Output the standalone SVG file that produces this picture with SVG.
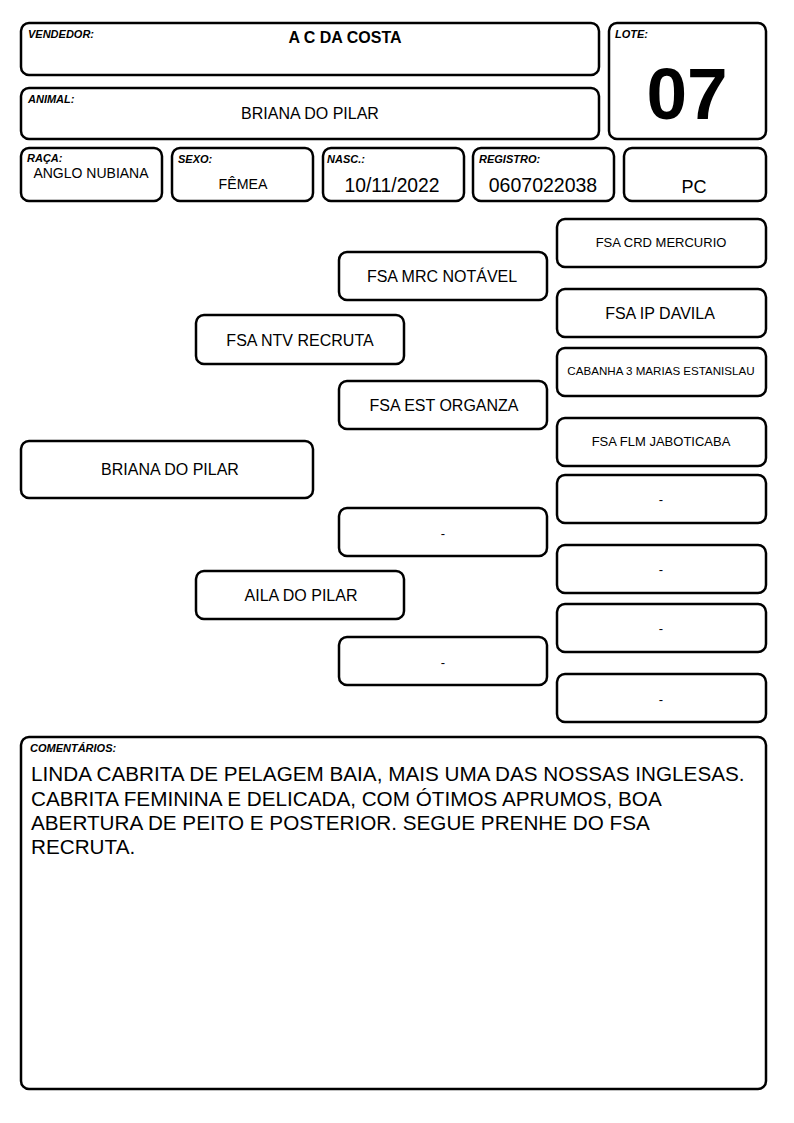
<svg xmlns="http://www.w3.org/2000/svg" width="794" height="1123" viewBox="0 0 794 1123">
<style>
.b{fill:#fff;stroke:#000;stroke-width:2.5}
.lb{font-family:"Liberation Sans",Arial,sans-serif;font-size:11px;font-weight:bold;font-style:italic;fill:#000}
.t{font-family:"Liberation Sans",Arial,sans-serif;font-size:16px;fill:#000;text-anchor:middle}
.s{font-family:"Liberation Sans",Arial,sans-serif;font-size:13px;fill:#000;text-anchor:middle}
.c{font-family:"Liberation Sans",Arial,sans-serif;font-size:20.7px;fill:#000}
</style>
<rect width="794" height="1123" fill="#fff"/>
<g id="vendedor"><rect class="b" x="21" y="23" width="578" height="52" rx="8"/><text class="lb" x="28" y="38">VENDEDOR:</text><text class="t" x="345" y="43" style="font-weight:bold">A C DA COSTA</text></g>
<g id="animal"><rect class="b" x="21" y="88" width="578" height="51" rx="8"/><text class="lb" x="28" y="103">ANIMAL:</text><text class="t" x="310" y="119">BRIANA DO PILAR</text></g>
<g id="lote"><rect class="b" x="609" y="23" width="157" height="116" rx="8"/><text class="lb" x="615" y="38">LOTE:</text><text x="687" y="119" style="font-family:'Liberation Sans',Arial,sans-serif;font-size:73px;font-weight:bold" text-anchor="middle">07</text></g>
<g id="raca"><rect class="b" x="21" y="148" width="141" height="53" rx="8"/><text class="lb" x="27" y="162">RAÇA:</text><text class="t" x="91" y="178" style="font-size:14px">ANGLO NUBIANA</text></g>
<g id="sexo"><rect class="b" x="172" y="148" width="141" height="53" rx="8"/><text class="lb" x="178" y="163">SEXO:</text><text class="t" x="243" y="189" style="font-size:14.2px">FÊMEA</text></g>
<g id="nasc"><rect class="b" x="323" y="148" width="141" height="53" rx="8"/><text class="lb" x="327" y="163">NASC.:</text><text class="t" x="392" y="192" style="font-size:19.3px">10/11/2022</text></g>
<g id="registro"><rect class="b" x="473" y="148" width="141" height="53" rx="8"/><text class="lb" x="479" y="163">REGISTRO:</text><text class="t" x="543" y="192" style="font-size:19.5px">0607022038</text></g>
<g id="pc"><rect class="b" x="624" y="148" width="142" height="53" rx="8"/><text class="t" x="694" y="193" style="font-size:18px">PC</text></g>
<g id="animal-node"><rect class="b" x="21" y="441" width="292" height="57" rx="8"/><text class="t" x="170" y="475">BRIANA DO PILAR</text></g>
<g id="pai"><rect class="b" x="196" y="315" width="208" height="49" rx="8"/><text class="t" x="300" y="346">FSA NTV RECRUTA</text></g>
<g id="mae"><rect class="b" x="196" y="571" width="208" height="48" rx="8"/><text class="t" x="301" y="601">AILA DO PILAR</text></g>
<g id="avo-pp"><rect class="b" x="339" y="252" width="208" height="48" rx="8"/><text class="t" x="442" y="282">FSA MRC NOTÁVEL</text></g>
<g id="avo-pm"><rect class="b" x="339" y="381" width="208" height="48" rx="8"/><text class="t" x="444" y="411">FSA EST ORGANZA</text></g>
<g id="avo-mp"><rect class="b" x="339" y="508" width="208" height="48" rx="8"/><text class="s" x="443" y="538">-</text></g>
<g id="avo-mm"><rect class="b" x="339" y="637" width="208" height="48" rx="8"/><text class="s" x="443" y="667">-</text></g>
<g id="bis-1"><rect class="b" x="557" y="219" width="209" height="48" rx="8"/><text class="s" x="661" y="247">FSA CRD MERCURIO</text></g>
<g id="bis-2"><rect class="b" x="557" y="289" width="209" height="48" rx="8"/><text class="t" x="660" y="319">FSA IP DAVILA</text></g>
<g id="bis-3"><rect class="b" x="557" y="348" width="209" height="48" rx="8"/><text class="s" x="661" y="375" style="font-size:11.6px">CABANHA 3 MARIAS ESTANISLAU</text></g>
<g id="bis-4"><rect class="b" x="557" y="418" width="209" height="48" rx="8"/><text class="s" x="661" y="446">FSA FLM JABOTICABA</text></g>
<g id="bis-5"><rect class="b" x="557" y="475" width="209" height="48" rx="8"/><text class="s" x="661" y="504">-</text></g>
<g id="bis-6"><rect class="b" x="557" y="545" width="209" height="48" rx="8"/><text class="s" x="661" y="574">-</text></g>
<g id="bis-7"><rect class="b" x="557" y="604" width="209" height="48" rx="8"/><text class="s" x="661" y="633">-</text></g>
<g id="bis-8"><rect class="b" x="557" y="674" width="209" height="48" rx="8"/><text class="s" x="661" y="704">-</text></g>
<g id="connectors"></g>
<g id="comentarios"><rect class="b" x="21" y="737" width="745" height="352" rx="8"/><text class="lb" x="30" y="752">COMENTÁRIOS:</text>
<text class="c" x="31" y="781">LINDA CABRITA DE PELAGEM BAIA, MAIS UMA DAS NOSSAS INGLESAS.</text>
<text class="c" x="31" y="806">CABRITA FEMININA E DELICADA, COM ÓTIMOS APRUMOS, BOA</text>
<text class="c" x="31" y="830">ABERTURA DE PEITO E POSTERIOR. SEGUE PRENHE DO FSA</text>
<text class="c" x="31" y="854">RECRUTA.</text></g>
</svg>
